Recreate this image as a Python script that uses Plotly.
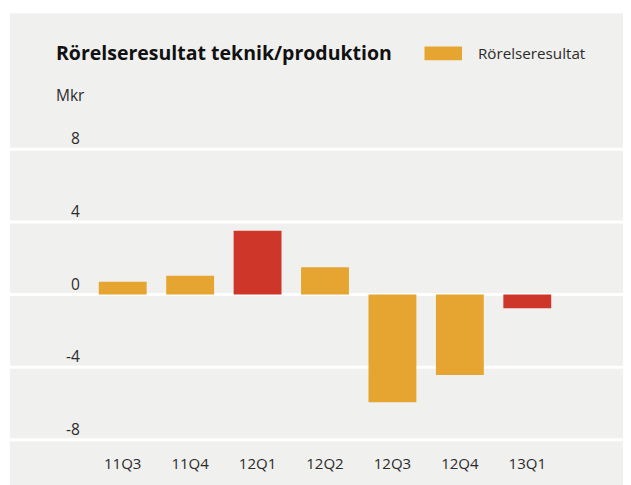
import plotly.graph_objects as go

categories = ["11Q3", "11Q4", "12Q1", "12Q2", "12Q3", "12Q4", "13Q1"]
values = [0.70, 1.03, 3.51, 1.51, -5.93, -4.43, -0.76]
highlight = [False, False, True, False, False, False, True]
y_ticks = [8, 4, 0, -4, -8]
y_tick_labels = ["8", "4", "0", "-4", "-8"]
title_text = "Rörelseresultat teknik/produktion"
legend_text = "Rörelseresultat"
unit_text = "Mkr"

ORANGE = "#E5A530"
RED = "#CD3629"
BG = "#F0F0EE"
TXT = "#2b2b2b"
FONT = "Open Sans"

OFF = 8  # page body margin
W, H = 631 - OFF, 485 - OFF
L, R, T, B = 89 - OFF, 70, 110 - OFF, 35
PW, PH = W - L - R, H - T - B

def px(x):
    return (x - OFF - L) / PW

def py(y):
    return (H - B - (y - OFF)) / PH

zero_px = 299 - OFF
scale = 18.6
ymax = (zero_px - T) / scale
ymin = -((H - B) - zero_px) / scale

colors = [RED if h else ORANGE for h in highlight]

fig = go.Figure()
fig.add_trace(go.Bar(x=categories, y=values, marker=dict(color=colors, line=dict(width=0)),
                     showlegend=False, hoverinfo="x+y"))

shapes = [dict(type="rect", xref="paper", yref="paper", x0=px(10), x1=px(W + 40),
               y0=py(H + 40), y1=py(11), fillcolor=BG, line=dict(width=0), layer="below")]
for v in y_ticks:
    shapes.append(dict(type="line", xref="paper", yref="y", x0=px(10), x1=px(W + 40),
                       y0=v, y1=v, line=dict(color="white", width=3), layer="below"))
# legend swatch
shapes.append(dict(type="rect", xref="paper", yref="paper", x0=px(424.5), x1=px(462),
                   y0=py(59), y1=py(45), fillcolor=ORANGE, line=dict(width=0)))

annotations = [
    dict(text="<b>" + title_text + "</b>", xref="paper", yref="paper", x=px(54), y=py(51),
         xanchor="left", yanchor="middle", showarrow=False,
         font=dict(family=FONT, size=19.5, color="#111111")),
    dict(text=legend_text, xref="paper", yref="paper", x=px(476), y=py(52),
         xanchor="left", yanchor="middle", showarrow=False,
         font=dict(family=FONT, size=15.2, color=TXT)),
    dict(text=unit_text, xref="paper", yref="paper", x=px(54), y=py(95),
         xanchor="left", yanchor="middle", showarrow=False,
         font=dict(family=FONT, size=15.5, color=TXT)),
]
for v, lab in zip(y_ticks, y_tick_labels):
    annotations.append(dict(text=lab, xref="paper", yref="y", x=px(82), y=v, yshift=11,
                            xanchor="right", yanchor="middle", showarrow=False,
                            font=dict(family=FONT, size=15.5, color=TXT)))

fig.update_layout(
    width=W, height=H,
    margin=dict(l=L, r=R, t=T, b=B),
    paper_bgcolor="white",
    plot_bgcolor="rgba(0,0,0,0)",
    bargap=0.29,
    shapes=shapes,
    annotations=annotations,
    xaxis=dict(type="category", range=[-0.5, 6.5], showgrid=False, zeroline=False,
               showline=False, ticks="outside", ticklen=8, tickcolor="rgba(0,0,0,0)",
               tickfont=dict(family=FONT, size=15, color=TXT)),
    yaxis=dict(range=[ymin, ymax], showgrid=False, zeroline=False, showline=False,
               showticklabels=False, ticks=""),
)

fig.write_html("out.html")
